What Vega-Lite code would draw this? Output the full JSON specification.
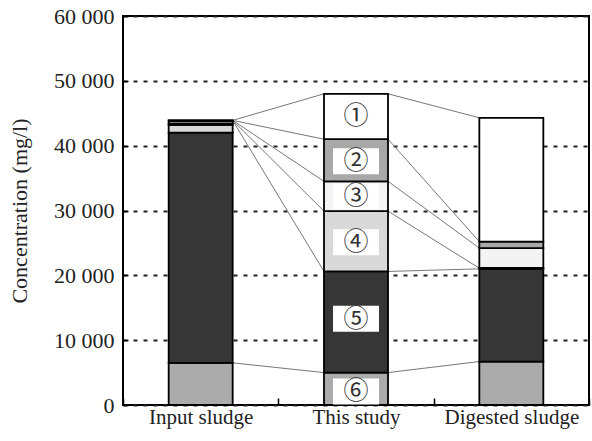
{
  "$schema": "https://vega.github.io/schema/vega-lite/v6.json",
  "width": 466,
  "height": 389,
  "autosize": {"type": "none"},
  "padding": {"left": 123, "top": 16, "right": 3, "bottom": 36},
  "background": "white",
  "config": {
    "view": {"stroke": "black", "strokeWidth": 2},
    "font": "Liberation Serif",
    "axis": {"domain": false, "labelFont": "Liberation Serif", "titleFont": "Liberation Serif", "labelColor": "#222", "titleColor": "#222", "tickColor": "black", "titleFontWeight": "normal"}
  },
  "datasets": {
    "segs": [
      {"sample": "Input sludge", "seg": "6", "low": 0, "high": 6500},
      {"sample": "Input sludge", "seg": "5", "low": 6500, "high": 42000},
      {"sample": "Input sludge", "seg": "4", "low": 42000, "high": 43200},
      {"sample": "Input sludge", "seg": "3", "low": 43200, "high": 43400},
      {"sample": "Input sludge", "seg": "2", "low": 43400, "high": 43800},
      {"sample": "Input sludge", "seg": "1", "low": 43800, "high": 43950},
      {"sample": "This study", "seg": "6", "low": 0, "high": 5000},
      {"sample": "This study", "seg": "5", "low": 5000, "high": 20600},
      {"sample": "This study", "seg": "4", "low": 20600, "high": 29900},
      {"sample": "This study", "seg": "3", "low": 29900, "high": 34500},
      {"sample": "This study", "seg": "2", "low": 34500, "high": 41000},
      {"sample": "This study", "seg": "1", "low": 41000, "high": 48000},
      {"sample": "Digested sludge", "seg": "6", "low": 0, "high": 6700},
      {"sample": "Digested sludge", "seg": "5", "low": 6700, "high": 21000},
      {"sample": "Digested sludge", "seg": "4", "low": 21000, "high": 21150},
      {"sample": "Digested sludge", "seg": "3", "low": 21150, "high": 24200},
      {"sample": "Digested sludge", "seg": "2", "low": 24200, "high": 25200},
      {"sample": "Digested sludge", "seg": "1", "low": 25200, "high": 44300}
    ],
    "links": [
      {"from": "Input sludge", "to": "This study", "yfrom": 43900, "yto": 48000},
      {"from": "Input sludge", "to": "This study", "yfrom": 43900, "yto": 41000},
      {"from": "Input sludge", "to": "This study", "yfrom": 43900, "yto": 34500},
      {"from": "Input sludge", "to": "This study", "yfrom": 43900, "yto": 29900},
      {"from": "Input sludge", "to": "This study", "yfrom": 43900, "yto": 20600},
      {"from": "Input sludge", "to": "This study", "yfrom": 6500, "yto": 5000},
      {"from": "This study", "to": "Digested sludge", "yfrom": 48000, "yto": 44300},
      {"from": "This study", "to": "Digested sludge", "yfrom": 41000, "yto": 25200},
      {"from": "This study", "to": "Digested sludge", "yfrom": 34500, "yto": 24200},
      {"from": "This study", "to": "Digested sludge", "yfrom": 29900, "yto": 21100},
      {"from": "This study", "to": "Digested sludge", "yfrom": 20600, "yto": 21000},
      {"from": "This study", "to": "Digested sludge", "yfrom": 5000, "yto": 6700}
    ],
    "labels": [
      {"sample": "This study", "label": "①", "y": 44500},
      {"sample": "This study", "label": "②", "y": 37600},
      {"sample": "This study", "label": "③", "y": 32200},
      {"sample": "This study", "label": "④", "y": 25100},
      {"sample": "This study", "label": "⑤", "y": 13300},
      {"sample": "This study", "label": "⑥", "y": 2100}
    ]
  },
  "encoding": {
    "x": {
      "field": "sample", "type": "nominal",
      "sort": ["Input sludge", "This study", "Digested sludge"],
      "scale": {"domain": ["Input sludge", "This study", "Digested sludge"], "paddingInner": 0, "paddingOuter": 0},
      "axis": {"title": null, "labelAngle": 0, "labelFont": "Liberation Serif", "labelFontSize": 21, "tickBand": "extent", "tickSize": -7, "tickWidth": 1.5, "labelPadding": 8, "grid": false}
    }
  },
  "layer": [
    {
      "data": {"name": "links"},
      "mark": {"type": "rule", "xOffset": 32, "x2Offset": -32, "color": "#777", "strokeWidth": 1},
      "encoding": {
        "x": {"field": "from", "type": "nominal", "scale": {"domain": ["Input sludge", "This study", "Digested sludge"], "paddingInner": 0, "paddingOuter": 0}},
        "x2": {"field": "to"},
        "y": {"field": "yfrom", "type": "quantitative", "scale": {"domain": [0, 60000]},
          "axis": {"title": "Concentration (mg/l)", "titleFont": "Liberation Serif", "titleFontWeight": "normal", "titleFontSize": 22, "labelFont": "Liberation Serif", "labelFontSize": 22, "values": [0, 10000, 20000, 30000, 40000, 50000, 60000], "labelExpr": "replace(format(datum.value, ','), ',', ' ')", "grid": true, "gridDash": [4, 6], "gridWidth": 2.2, "gridColor": "#222", "tickSize": -5, "tickWidth": 1.5, "labelPadding": 14, "titlePadding": 22}},
        "y2": {"field": "yto"}
      }
    },
    {
      "data": {"name": "segs"},
      "mark": {"type": "bar", "width": 64, "stroke": "black", "strokeWidth": 1.8},
      "encoding": {
        "y": {"field": "low", "type": "quantitative"},
        "y2": {"field": "high"},
        "fill": {"field": "seg", "type": "nominal", "legend": null,
          "scale": {"domain": ["1", "2", "3", "4", "5", "6"], "range": ["#ffffff", "#a8a8a8", "#f3f3f3", "#d9d9d9", "#363636", "#ababab"]}}
      }
    },
    {
      "data": {"name": "labels"},
      "mark": {"type": "point", "shape": "M-1,-0.565H1V0.565H-1Z", "filled": true, "color": "white", "opacity": 1, "size": 2116, "strokeWidth": 0},
      "encoding": {
        "y": {"field": "y", "type": "quantitative"}
      }
    },
    {
      "data": {"name": "labels"},
      "mark": {"type": "text", "font": "Noto Sans CJK JP", "fontSize": 25, "color": "#333", "baseline": "middle", "align": "center"},
      "encoding": {
        "y": {"field": "y", "type": "quantitative"},
        "text": {"field": "label"}
      }
    }
  ]
}
